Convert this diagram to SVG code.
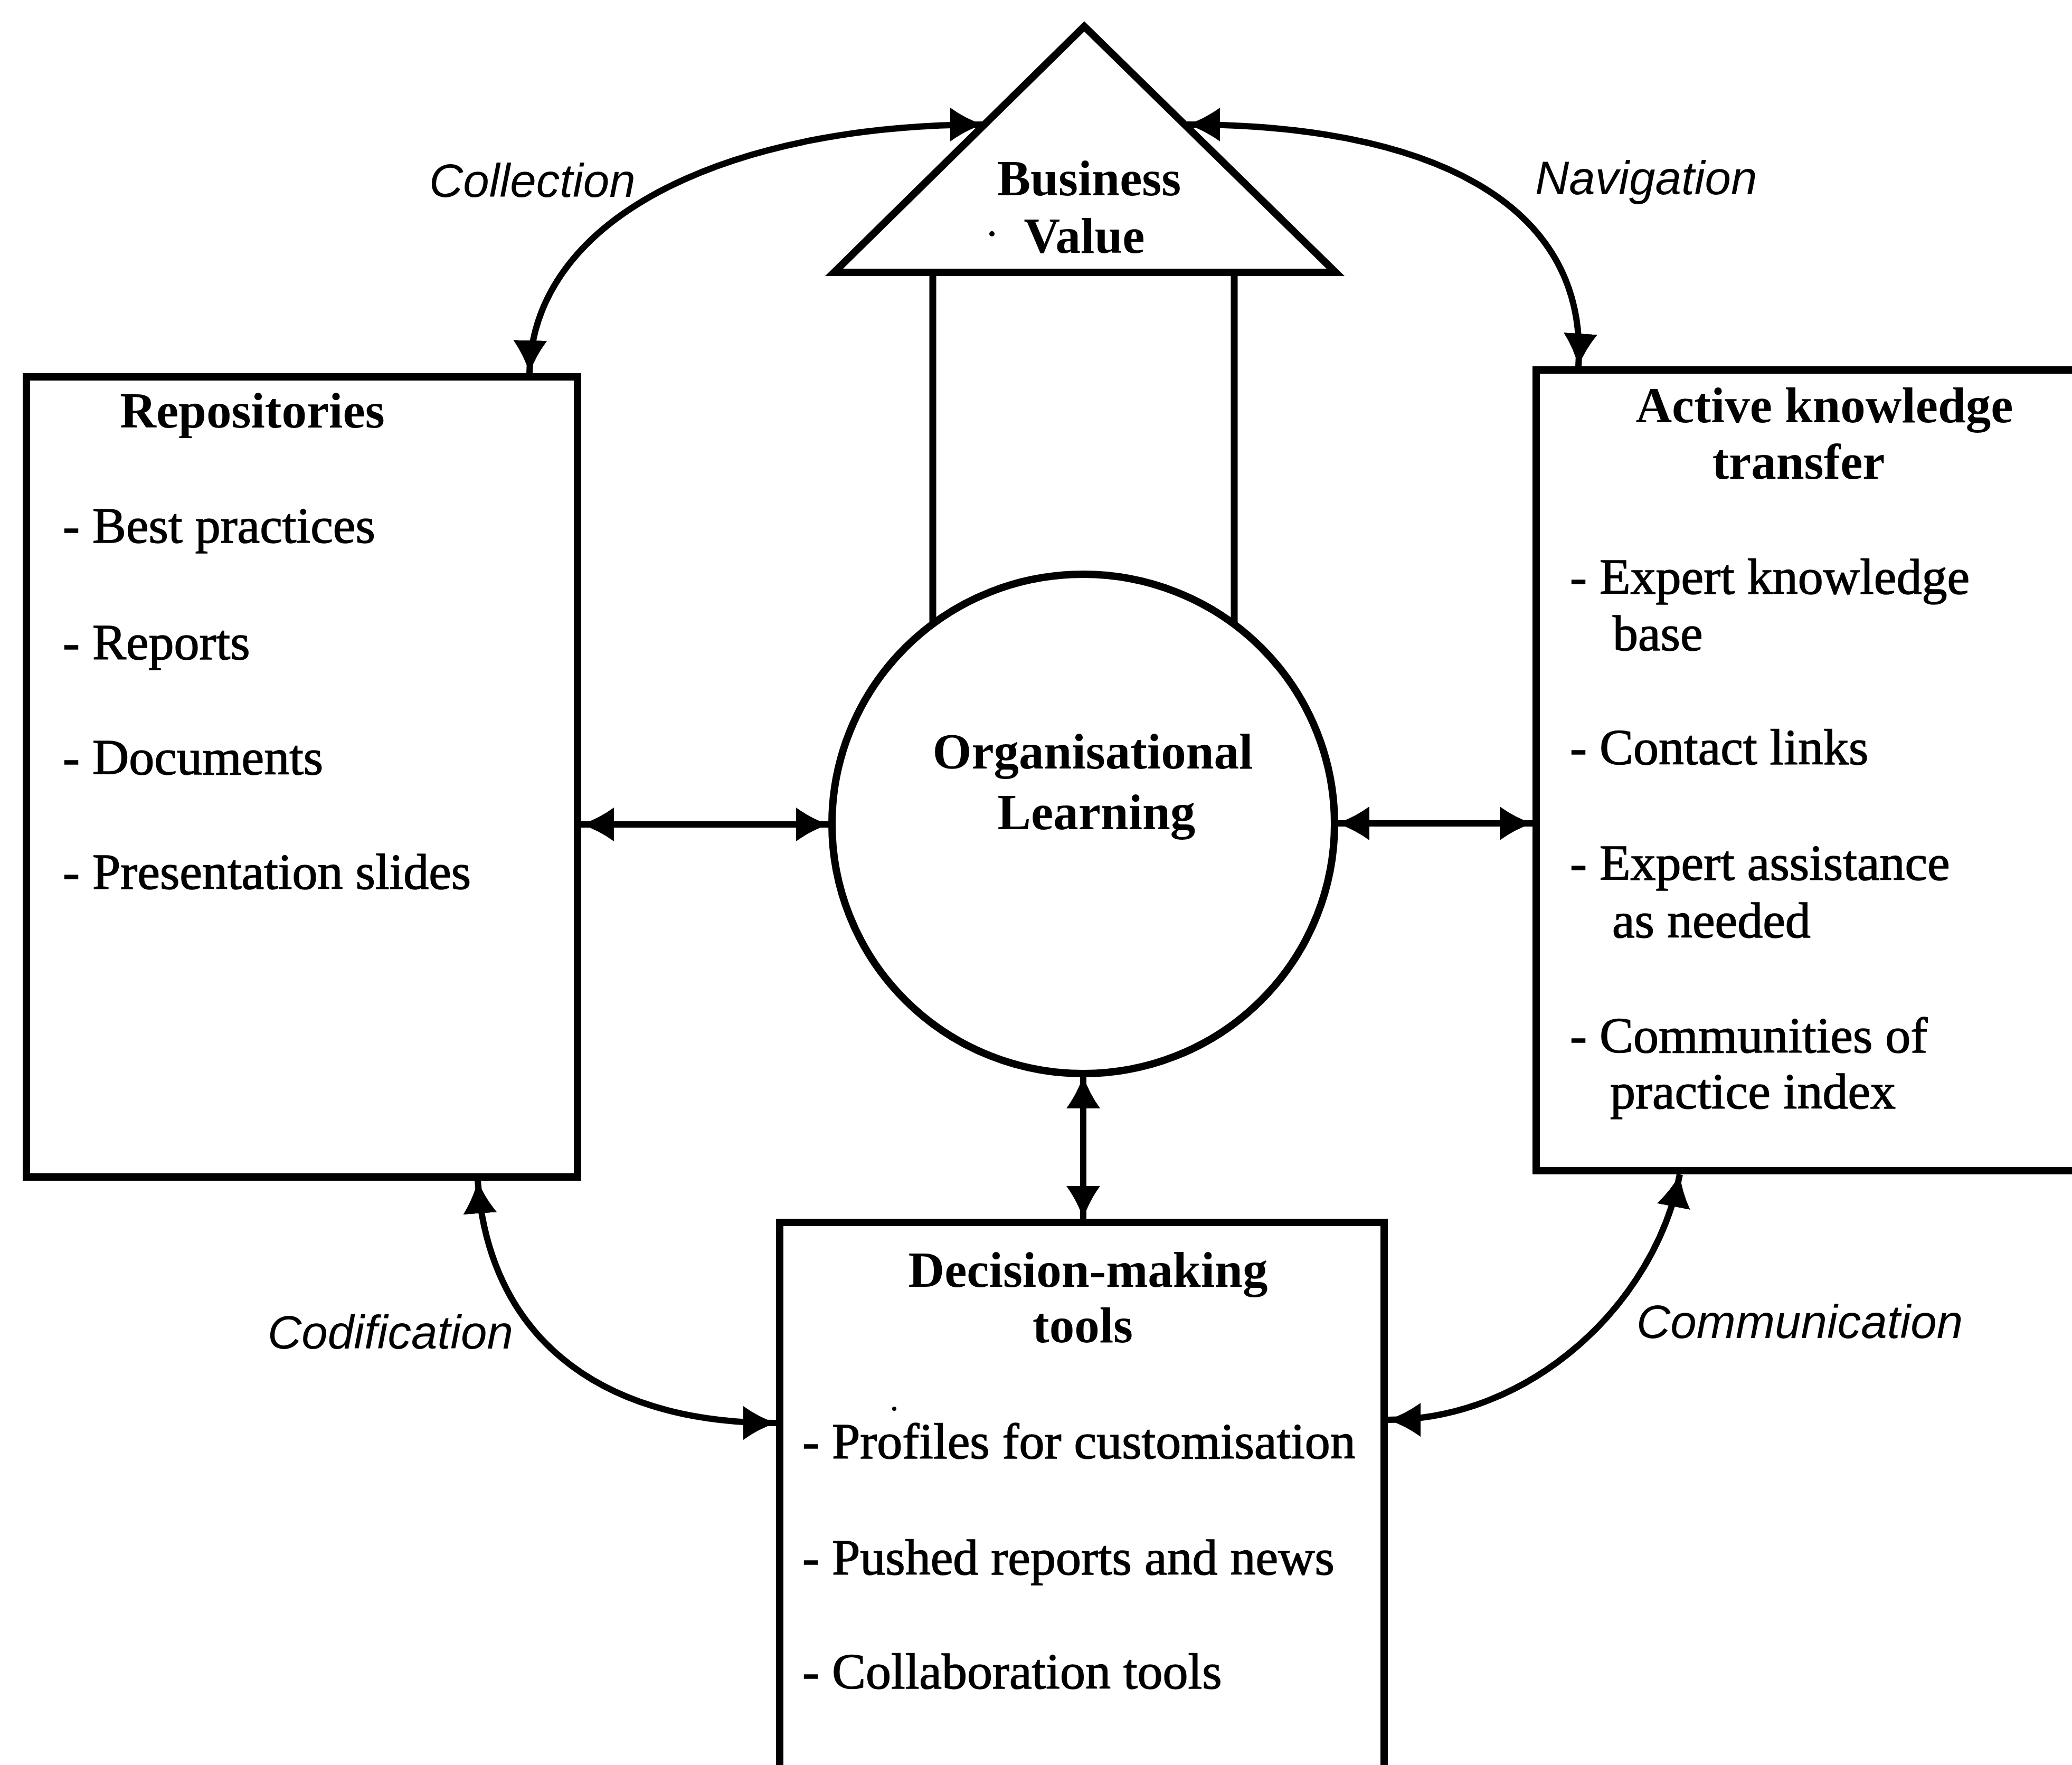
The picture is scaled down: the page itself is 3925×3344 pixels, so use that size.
<svg xmlns="http://www.w3.org/2000/svg" width="3925" height="3344" viewBox="0 0 3925 3344">
  <style>
    .shape { fill: #ffffff; stroke: #000000; stroke-width: 14; }
    .line { fill: none; stroke: #000000; stroke-width: 13; }
    .conn { fill: none; stroke: #000000; stroke-width: 12; marker-start: url(#arrow); marker-end: url(#arrow); }
    .title { font-family: "Liberation Serif", "Times New Roman", serif; font-weight: bold; font-size: 95px; fill: #000000; }
    .item { font-family: "Liberation Serif", "Times New Roman", serif; font-size: 96px; fill: #000000; stroke: #000000; stroke-width: 1.5; }
    .label { font-family: "Liberation Sans", Arial, sans-serif; font-style: italic; font-size: 89px; fill: #000000; }
    .speck { fill: #000000; }
  </style>
  <defs>
    <marker id="arrow" viewBox="0 0 62 64" markerWidth="62" markerHeight="64" refX="62" refY="32" markerUnits="userSpaceOnUse" orient="auto-start-reverse">
      <path d="M0,0 Q29,21 62,32 Q29,43 0,64 Z" fill="#000000"/>
    </marker>
  </defs>
  <rect width="3925" height="3344" fill="#ffffff"/>

  <g id="business-value">
    <line class="line" x1="1767" y1="516" x2="1767" y2="1182"/>
    <line class="line" x1="2338" y1="516" x2="2338" y2="1182"/>
    <polygon class="shape" points="2054,50 1580,516 2530,516"/>
    <text class="title" x="2063" y="370" text-anchor="middle">Business</text>
    <text class="title" x="2054" y="479" text-anchor="middle">Value</text>
    <circle class="speck" cx="1879" cy="443" r="5"/>
  </g>

  <g id="organisational-learning">
    <ellipse class="shape" cx="2052" cy="1561" rx="476" ry="473" stroke-width="12"/>
    <text class="title" x="2070" y="1456" text-anchor="middle">Organisational</text>
    <text class="title" x="2077" y="1571" text-anchor="middle">Learning</text>
  </g>

  <g id="repositories">
    <rect class="shape" x="50" y="714" width="1044" height="1516"/>
    <text class="title" x="478" y="810" text-anchor="middle">Repositories</text>
    <text class="item" x="119" y="1028">- Best practices</text>
    <text class="item" x="119" y="1249">- Reports</text>
    <text class="item" x="119" y="1467">- Documents</text>
    <text class="item" x="119" y="1684">- Presentation slides</text>
  </g>

  <g id="active-knowledge-transfer">
    <rect class="shape" x="2910" y="701" width="1100" height="1517"/>
    <text class="title" x="3456" y="800" text-anchor="middle">Active knowledge</text>
    <text class="title" x="3407" y="907" text-anchor="middle">transfer</text>
    <text class="item" x="2974" y="1125">- Expert knowledge</text>
    <text class="item" x="3055" y="1232">base</text>
    <text class="item" x="2974" y="1448">- Contact links</text>
    <text class="item" x="2974" y="1667">- Expert assistance</text>
    <text class="item" x="3054" y="1776">as needed</text>
    <text class="item" x="2974" y="1994">- Communities of</text>
    <text class="item" x="3050" y="2100">practice index</text>
  </g>

  <g id="decision-making-tools">
    <rect class="shape" x="1477" y="2316" width="1145" height="1100"/>
    <text class="title" x="2061" y="2438" text-anchor="middle">Decision-making</text>
    <text class="title" x="2051" y="2543" text-anchor="middle">tools</text>
    <circle class="speck" cx="1694" cy="2669" r="4"/>
    <text class="item" x="1520" y="2763">- Profiles for customisation</text>
    <text class="item" x="1520" y="2983">- Pushed reports and news</text>
    <text class="item" x="1520" y="3199">- Collaboration tools</text>
  </g>

  <g id="connectors">
    <path class="conn" d="M1101,1562 L1570,1562"/>
    <path class="conn" d="M2532,1560 L2903,1560"/>
    <path class="conn" d="M2052,2038 L2052,2309"/>
    <path class="conn" d="M1003,707 C1010,400 1400,236 1862,236"/>
    <path class="conn" d="M2249,236 C2700,236 3010,380 2990,694"/>
    <path class="conn" d="M905,2237 C925,2520 1120,2696 1470,2696"/>
    <path class="conn" d="M3182,2225 C3135,2470 2900,2690 2629,2690"/>
  </g>

  <g id="labels">
    <text class="label" x="813" y="373">Collection</text>
    <text class="label" x="2908" y="368">Navigation</text>
    <text class="label" x="507" y="2555">Codification</text>
    <text class="label" x="3100" y="2535">Communication</text>
  </g>
</svg>
